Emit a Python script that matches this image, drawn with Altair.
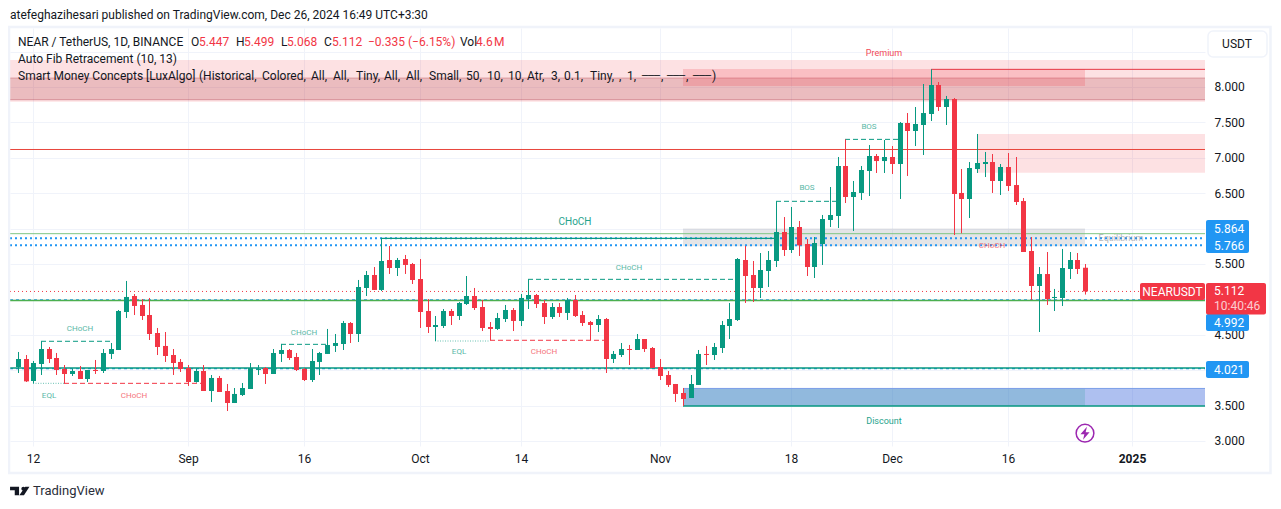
import altair as alt
import pandas as pd

FONT = "Roboto"
INK = "#131722"
UP = "#089981"
DOWN = "#f23645"
BLUE = "#2196f3"
GRID = "#f0f3fa"

first_day = "2024-08-10"
opens = [4.045,4.158,3.847,4.087,4.299,4.172,4.017,3.946,3.988,3.875,4.003,3.988,4.229,4.285,4.822,5.048,4.921,4.779,4.525,4.342,
4.214,4.116,4.031,3.833,3.988,3.706,3.890,3.706,3.536,3.649,3.734,4.003,4.031,3.946,4.229,4.285,4.186,4.017,3.861,4.116,
4.229,4.342,4.370,4.666,4.511,5.161,5.344,5.133,5.556,5.443,5.570,5.500,5.288,4.836,4.610,4.624,4.836,4.765,4.935,5.048,
4.892,4.610,4.582,4.723,4.850,4.695,5.005,5.062,4.949,4.751,4.892,4.808,4.991,4.779,4.680,4.638,4.723,4.158,4.214,4.299,
4.285,4.440,4.313,4.045,3.932,3.805,3.678,3.607,3.791,4.229,4.214,4.313,4.624,4.709,5.556,5.344,5.161,5.401,5.542,5.952,
5.697,6.022,5.782,5.457,5.782,6.121,6.178,6.884,6.446,6.503,6.813,7.025,6.954,7.011,6.912,7.491,7.378,7.463,7.618,8.028,
7.717,7.830,6.503,6.418,6.841,6.912,6.940,6.672,6.870,6.615,6.389,5.683,5.189,5.358,5.019,5.019,5.429,5.556,5.447]
highs = [4.257,4.214,4.130,4.299,4.327,4.243,4.073,4.017,4.059,4.003,4.144,4.299,4.384,4.850,5.260,5.076,5.005,5.020,4.596,4.539,
4.299,4.158,4.073,4.017,4.073,3.932,3.918,3.805,3.748,3.819,4.101,4.073,4.045,4.299,4.370,4.299,4.243,4.031,4.299,4.257,
4.582,4.511,4.695,4.680,5.274,5.401,5.457,5.867,5.754,5.585,5.627,5.514,5.570,5.005,4.765,4.864,4.864,4.963,5.330,5.161,
4.991,4.680,4.808,4.921,4.878,5.076,5.283,5.076,4.991,4.949,4.949,5.020,5.062,4.836,4.695,4.779,4.737,4.271,4.384,4.356,
4.511,4.440,4.327,4.158,3.988,3.805,3.748,3.932,4.285,4.342,4.384,4.695,4.949,5.584,5.754,5.542,5.655,5.683,6.385,6.163,
6.305,6.107,5.853,5.881,6.192,6.587,7.011,7.260,6.672,6.884,7.180,7.053,7.251,7.166,7.505,7.632,7.717,8.042,8.249,8.070,
7.873,7.844,6.841,6.940,7.336,7.082,7.053,6.912,7.067,7.011,6.432,5.881,5.457,5.669,5.147,5.712,5.669,5.655,5.499]
lows = [3.960,3.833,3.814,3.932,4.101,3.932,3.814,3.918,3.875,3.833,3.946,3.960,4.158,4.285,4.737,4.779,4.709,4.426,4.214,4.116,
3.932,3.974,3.777,3.824,3.706,3.551,3.692,3.423,3.536,3.635,3.734,3.932,3.805,3.946,4.116,4.144,3.988,3.847,3.833,3.932,
4.229,4.257,4.285,4.384,4.398,5.048,5.133,5.118,5.359,5.330,5.359,5.217,4.596,4.525,4.412,4.596,4.638,4.709,4.921,4.850,
4.553,4.422,4.568,4.680,4.553,4.624,4.864,4.878,4.652,4.723,4.751,4.709,4.751,4.624,4.422,4.539,3.960,4.101,4.186,4.073,
4.285,4.257,4.031,3.861,3.762,3.551,3.494,3.607,3.791,4.073,4.144,4.243,4.440,4.695,4.949,4.963,5.019,5.175,5.457,5.613,
5.655,5.613,5.330,5.302,5.486,6.022,6.008,6.361,5.966,6.404,6.460,6.785,6.785,6.771,6.418,6.743,7.166,7.039,7.519,7.661,
7.463,5.909,5.933,6.149,6.785,6.728,6.503,6.474,6.531,6.333,5.669,4.991,4.539,4.921,4.836,4.906,5.288,5.358,5.068]
closes = [4.158,3.842,4.101,4.299,4.158,4.003,3.946,3.988,3.875,4.003,3.988,4.243,4.299,4.836,5.034,4.907,4.765,4.511,4.327,4.200,
4.101,4.017,3.833,3.988,3.706,3.890,3.692,3.536,3.664,3.748,4.031,4.017,3.946,4.243,4.285,4.172,4.003,3.861,4.130,4.243,
4.356,4.384,4.666,4.511,5.175,5.344,5.133,5.542,5.443,5.556,5.486,5.274,4.822,4.610,4.638,4.836,4.765,4.949,5.048,4.878,
4.596,4.582,4.737,4.850,4.695,5.020,5.062,4.935,4.751,4.892,4.808,4.991,4.765,4.666,4.638,4.723,4.158,4.229,4.299,4.285,
4.440,4.299,4.031,3.918,3.791,3.664,3.593,3.805,4.229,4.214,4.327,4.638,4.723,5.570,5.330,5.161,5.415,5.556,5.952,5.697,
6.022,5.763,5.457,5.796,6.135,6.192,6.884,6.446,6.517,6.827,7.025,6.954,7.011,6.912,7.491,7.378,7.477,7.632,8.028,7.717,
7.830,6.488,6.418,6.856,6.926,6.940,6.672,6.870,6.601,6.375,5.669,5.189,5.358,5.005,5.034,5.443,5.556,5.429,5.112]

axis_dates = ["2024-08-12","2024-09-01","2024-09-16","2024-10-01","2024-10-14","2024-11-01","2024-11-18","2024-12-01","2024-12-16","2025-01-01"]
axis_prices = [3.0,3.5,4.0,4.5,5.0,5.5,6.0,6.5,7.0,7.5,8.0,8.5]

dates = pd.date_range(first_day, periods=len(opens), freq="D")
iso = lambda d: pd.Timestamp(d).strftime("%Y-%m-%dT%H:%M:%SZ")
day = lambda i: iso(dates[i])
LEFT = "2024-08-08T23:43:00Z"
RIGHT = "2025-01-10T11:43:00Z"

candles = pd.DataFrame({"date": [iso(d) for d in dates], "open": opens, "high": highs, "low": lows, "close": closes})
candles["dir"] = ["up" if c >= o else "down" for o, c in zip(opens, closes)]

xs = alt.Scale(type="utc", domain=[LEFT, RIGHT], round=True, padding=0)
ys = alt.Scale(domain=[2.929, 8.833], nice=False, zero=False)
cs = alt.Scale(domain=["up", "down"], range=[UP, DOWN])

x_axis = alt.Axis(
    values=axis_dates, grid=True, gridColor=GRID, gridWidth=1, domain=False, ticks=False, title=None,
    labelFont=FONT, labelFontSize=12, labelColor=INK, labelPadding=7, labelOverlap=False, labelFlush=False,
    labelExpr="utcdate(datum.value)==1 ? (utcmonth(datum.value)==0 ? utcFormat(datum.value,'%Y') : utcFormat(datum.value,'%b')) : utcFormat(datum.value,'%-d')",
    labelFontWeight={"condition": {"test": "utcmonth(datum.value)==0", "value": "bold"}, "value": "normal"})
y_axis = alt.Axis(
    values=axis_prices, orient="right", grid=True, gridColor=GRID, gridWidth=1, domain=False, ticks=False, title=None,
    labelFont=FONT, labelFontSize=12, labelColor=INK, labelPadding=9, labelOverlap=False, labelFlush=False,
    labelExpr="indexof([8.5,6,5,4], datum.value) >= 0 ? '' : format(datum.value, '.3f')")

X = lambda f: alt.X(f, type="temporal", scale=xs, axis=x_axis)
Y = lambda f: alt.Y(f, type="quantitative", scale=ys, axis=y_axis)
layers = []


def zone(a, b, p0, p1, color, op):
    df = pd.DataFrame({"a": [a], "b": [b], "p0": [p0], "p1": [p1]})
    return alt.Chart(df).mark_rect(color=color, opacity=op).encode(x=X("a"), x2="b", y=Y("p0"), y2="p1")


def line(a, b, p, color, width=1.0, dash=None, op=1.0):
    df = pd.DataFrame({"a": [a], "b": [b], "p": [p]})
    kw = dict(color=color, strokeWidth=width, opacity=op)
    if dash:
        kw["strokeDash"] = dash
    return alt.Chart(df).mark_rule(**kw).encode(x=X("a"), x2="b", y=Y("p"))


def vline(d, p0, p1, color, width=1.0):
    df = pd.DataFrame({"a": [d], "p0": [p0], "p1": [p1]})
    return alt.Chart(df).mark_rule(color=color, strokeWidth=width, xOffset=0.5).encode(x=X("a"), y=Y("p0"), y2="p1")


def note(text, d, p, color, size=8, op=0.7):
    df = pd.DataFrame({"a": [d], "p": [p]})
    return alt.Chart(df).mark_text(text=text, color=color, fontSize=size, font=FONT, opacity=op,
                                   align="center", baseline="middle").encode(x=X("a"), y=Y("p"))


ZS, ZE = day(86), day(138)
layers += [
    zone(LEFT, RIGHT, 8.381, 7.792, DOWN, 0.15),
    zone(LEFT, RIGHT, 8.127, 7.82, "#a52733", 0.2),
    line(LEFT, RIGHT, 8.127, "#a52733", 1, op=0.3),
    line(LEFT, RIGHT, 7.82, "#a52733", 1, op=0.35),
    zone(ZS, ZE, 8.254, 8.014, DOWN, 0.2),
    line(day(118), RIGHT, 8.249, "#e53945", 1),
    zone(day(124), RIGHT, 7.336, 6.79, DOWN, 0.15),
    zone(ZS, ZE, 6.0, 5.75, "#787b86", 0.2),
    zone(ZS, RIGHT, 3.742, 3.494, "#295ad7", 0.38),
    zone(ZS, ZE, 3.742, 3.494, UP, 0.17),
    line(ZS, RIGHT, 3.742, "#7b9ee8", 1),
    line(ZS, RIGHT, 3.494, UP, 1.5),
    line(LEFT, RIGHT, 7.117, "#e8453c", 1),
    line(LEFT, RIGHT, 5.928, "#81c784", 1),
    line(LEFT, RIGHT, 5.864, BLUE, 2, [2, 3]),
    line(LEFT, RIGHT, 5.766, BLUE, 2, [2, 3]),
    line(LEFT, RIGHT, 5.112, DOWN, 1, [1, 3]),
    line(LEFT, RIGHT, 4.992, BLUE, 1.2, [3, 3]),
    line(LEFT, RIGHT, 4.985, "#4caf50", 1.5),
    line(LEFT, RIGHT, 4.021, BLUE, 1.2, [3, 3]),
    line(LEFT, RIGHT, 4.029, UP, 1.5),
]

# market structure
DASH = [5, 3]
layers += [
    line(day(3), day(12), 4.408, UP, 1, DASH), vline(day(3), 4.408, highs[3], UP),
    line(day(34), day(40), 4.365, UP, 1, DASH), vline(day(34), 4.365, highs[34], UP),
    line(day(2), day(6), 3.814, UP, 1, [1, 1.5], 0.6),
    line(day(6), day(24), 3.814, DOWN, 1, DASH),
    line(day(47), day(98), 5.862, UP, 1.2), vline(day(47), 5.862, highs[47], UP),
    line(day(66), day(93), 5.283, UP, 1, DASH), vline(day(66), 5.283, highs[66], UP),
    line(day(54), day(61), 4.412, UP, 1, [1, 1.5], 0.6),
    line(day(61), day(76), 4.422, DOWN, 1, DASH),
    line(day(98), day(106), 6.385, UP, 1, DASH), vline(day(98), 6.385, highs[98], UP),
    line(day(107), day(114), 7.26, UP, 1, DASH), vline(day(107), 7.26, highs[107], UP),
]

# candles
layers.append(alt.Chart(candles).mark_rule(strokeWidth=1, xOffset=0.5).encode(
    x=X("date"), y=Y("low"), y2="high", color=alt.Color("dir:N", scale=cs, legend=None)))
layers.append(alt.Chart(candles).mark_bar(size=5, xOffset=0.5).encode(
    x=X("date"), y=Y("open"), y2="close", color=alt.Color("dir:N", scale=cs, legend=None)))

layers += [
    note("CHoCH", "2024-08-18", 4.582, UP),
    note("EQL", "2024-08-14", 3.636, UP),
    note("CHoCH", "2024-08-25", 3.636, DOWN),
    note("CHoCH", "2024-09-16", 4.53, UP),
    note("CHoCH", "2024-10-21", 6.093, UP, 10, 0.9),
    note("CHoCH", "2024-10-28", 5.448, UP),
    note("EQL", "2024-10-06", 4.257, UP),
    note("CHoCH", "2024-10-17", 4.257, DOWN),
    note("BOS", "2024-11-20", 6.573, UP),
    note("BOS", "2024-11-28", 7.435, UP),
    note("CHoCH", "2024-12-14", 5.758, DOWN),
    note("Equilibrium", "2024-12-30T14:00:00Z", 5.871, "#787b86", 9, 0.55),
    note("Premium", "2024-11-30", 8.48, DOWN, 9, 0.9),
    note("Discount", "2024-11-30", 3.282, UP, 9, 0.9),
]

# signal badge
badge = pd.DataFrame({"a": [day(138)], "p": [3.11]})
layers.append(alt.Chart(badge).mark_point(shape="circle", size=314, filled=False, color="#9c27b0", strokeWidth=1.5, opacity=1).encode(x=X("a"), y=Y("p")))
layers.append(alt.Chart(badge).mark_point(shape="M.3,-1 L-.7,.15 H-.1 L-.3,1 L.7,-.15 H.1 Z", size=170, filled=True, color="#9c27b0", strokeWidth=0, opacity=1).encode(x=X("a"), y=Y("p")))


def text(t, x, y, color=INK, size=12, align="left", weight="normal", op=1.0, font=FONT):
    return alt.Chart(pd.DataFrame({"t": [t]})).mark_text(
        color=color, fontSize=size, font=font, align=align, baseline="middle", fontWeight=weight, opacity=op
    ).encode(x=alt.value(x - 10), y=alt.value(y - 28), text="t:N")


def box(x0, x1, y0, y1, fill, stroke=None, r=2, sw=1, fop=1):
    kw = dict(fill=fill, cornerRadius=r, fillOpacity=fop)
    if stroke:
        kw.update(stroke=stroke, strokeWidth=sw)
    return alt.Chart(pd.DataFrame({"k": [1]})).mark_rect(**kw).encode(
        x=alt.value(x0 - 10), x2=alt.value(x1 - 10), y=alt.value(y0 - 28), y2=alt.value(y1 - 28))


layers += [
    box(1208, 1267, 31, 57, "#ffffff", GRID, 5, 1.5),
    text("USDT", 1237, 44, INK, 12, "center"),
    box(1206, 1249, 220, 253, BLUE),
    text("5.864", 1214, 229, "#ffffff"),
    text("5.766", 1214, 245.5, "#ffffff"),
    box(1206, 1249, 314, 331, BLUE),
    text("4.992", 1214, 323, "#ffffff"),
    box(1206, 1249, 361, 378, BLUE),
    text("4.021", 1214, 370, "#ffffff"),
    box(1140, 1205, 283, 300, DOWN),
    text("NEARUSDT", 1172.5, 291.5, "#ffffff", 12, "center"),
    box(1206, 1266, 283, 314.5, DOWN),
    text("5.112", 1214, 291, "#ffffff"),
    text("10:40:46", 1214, 306, "#ffffff", 12, op=0.75),
    box(9, 1270.5, 27, 473, "#ffffff", GRID, 0, 2.5, 0),
    text("atefeghazihesari published on TradingView.com, Dec 26, 2024 16:49 UTC+3:30", 10, 15),
    text("NEAR / TetherUS, 1D, BINANCE", 18, 42),
    text("O", 191, 42), text("5.447", 199, 42, DOWN),
    text("H", 236, 42), text("5.499", 244, 42, DOWN),
    text("L", 281, 42), text("5.068", 287, 42, DOWN),
    text("C", 324, 42), text("5.112", 332, 42, DOWN),
    text("\u22120.335", 368, 42, DOWN), text("(\u22126.15%)", 408, 42, DOWN),
    text("Vol", 460, 42), text("4.6", 476, 42, DOWN), text("M", 494, 42, DOWN),
    text("Auto Fib Retracement (10, 13)", 18, 59),
    text("TradingView", 33, 491, "#2a2e39", 13),
]
legend_words = ["Smart Money Concepts [LuxAlgo]", "(Historical,", "Colored,", "All,", "All,", "Tiny,", "All,", "All,", "Small,",
                "50,", "10,", "10,", "Atr,", "3,", "0.1,", "Tiny,", ",", "1,"]
legend_starts = [18, 199, 262, 311, 333, 356, 384, 406, 429, 466, 487, 508, 527, 551, 564, 590, 619, 627]
for w, s in zip(legend_words, legend_starts):
    layers.append(text(w, s, 76))
for s in [642, 667, 693]:
    layers.append(text("\u2500\u2500\u2500", s, 76, INK, 10, font="DejaVu Sans Mono"))
for w, s in zip([",", ",", ")"], [661, 686, 712]):
    layers.append(text(w, s, 76))

logo = "M-.97,-.43 H-.07 V.43 H-.5 V-.07 H-.97 Z M.16,-.23 A.2,.2 0 1 1 .56,-.23 A.2,.2 0 1 1 .16,-.23 Z M.55,-.43 H.97 L.42,.43 H-.04 Z"
layers.append(alt.Chart(pd.DataFrame({"k": [1]})).mark_point(shape=logo, size=400, filled=True, color=INK, strokeWidth=0, opacity=1).encode(
    x=alt.value(19.75 - 10), y=alt.value(491 - 28)))

chart = alt.layer(*layers).properties(
    width=1195, height=418,
    padding={"left": 2, "top": 20, "right": 68, "bottom": 55},
    autosize=alt.AutoSizeParams(type="none"),
).configure_view(stroke=None)

chart.save("out.html", embed_options={"renderer": "svg", "actions": False})
